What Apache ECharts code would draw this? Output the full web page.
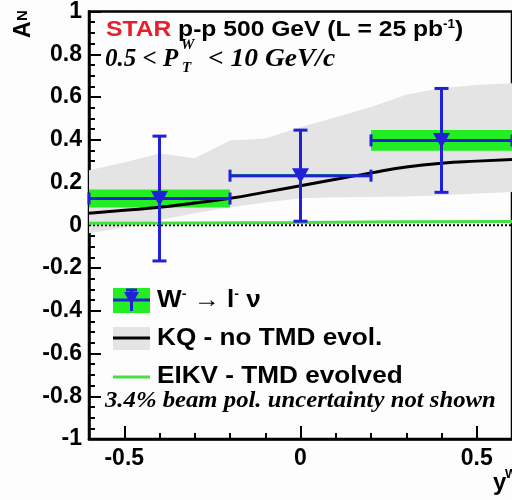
<!DOCTYPE html>
<html>
<head>
<meta charset="utf-8">
<script src="https://cdn.jsdelivr.net/npm/echarts@6/dist/echarts.min.js"></script>
<style>
  html, body { margin: 0; padding: 0; background: #fdfdfd; }
  #chart { width: 512px; height: 500px; }
</style>
</head>
<body>
<div id="chart"></div>
<script>
// STAR W- -> l- nu points (bins in y^W)
const pointX = [-0.4, 0.0, 0.4];
const pointY = [0.125, 0.232, 0.397];
const statErr = [0.292, 0.213, 0.243];
const binHalf = [0.2, 0.2, 0.2];
const sysErr = [0.042, 0.008, 0.049];

// KQ - no TMD evol. (curve + band)
const bandX = [-0.6, -0.5, -0.4, -0.3, -0.2, -0.1, 0, 0.1, 0.2, 0.3, 0.4, 0.5, 0.6];
const bandUpper = [0.257, 0.294, 0.336, 0.313, 0.397, 0.406, 0.458, 0.505, 0.553, 0.61, 0.642, 0.656, 0.664];
const bandLower = [-0.037, -0.01, 0.025, 0.056, 0.084, 0.107, 0.126, 0.131, 0.132, 0.135, 0.14, 0.148, 0.156];
const kqCurve = [0.056, 0.07, 0.084, 0.104, 0.126, 0.155, 0.185, 0.215, 0.245, 0.272, 0.29, 0.3, 0.308];

// EIKV - TMD evolved
const eikvX = [-0.6, -0.3, 0, 0.3, 0.6];
const eikvY = [0.009, 0.011, 0.013, 0.016, 0.018];

// axis ranges / ticks
const xRange = [-0.6, 0.6];
const yRange = [-1, 1];
const xMajorTicks = [-0.5, 0, 0.5];

const BLUE = '#2020d8';
const GREEN = '#22ee22';
const GREEN_LINE = '#44e044';
const GRAY = '#e4e4e4';
const SANS = '"Liberation Sans", Arial, sans-serif';
const SERIF = '"Liberation Serif", "Times New Roman", serif';

const chart = echarts.init(document.getElementById('chart'));

const option = {
  animation: false,
  backgroundColor: '#fdfdfd',
  grid: {
    left: 89,
    top: 11,
    right: -6,
    bottom: 61,
    show: true,
    borderColor: '#000',
    borderWidth: 2.5,
    backgroundColor: 'transparent'
  },
  xAxis: [
    {
      type: 'value',
      min: xRange[0],
      max: xRange[1],
      interval: 0.1,
      axisLine: { show: true, onZero: false, lineStyle: { color: '#000', width: 2.5 } },
      axisTick: { inside: true, length: 6, lineStyle: { color: '#000', width: 2 } },
      axisLabel: { show: false },
      splitLine: { show: false }
    },
    {
      type: 'value',
      position: 'bottom',
      min: xRange[0],
      max: xRange[1],
      axisLine: { show: false, onZero: false },
      axisTick: { inside: true, length: 13, customValues: xMajorTicks, lineStyle: { color: '#000', width: 2 } },
      axisLabel: {
        customValues: xMajorTicks,
        margin: 8,
        color: '#000',
        fontFamily: SANS,
        fontWeight: 'bold',
        fontSize: 23
      },
      splitLine: { show: false }
    }
  ],
  yAxis: {
    type: 'value',
    min: yRange[0],
    max: yRange[1],
    interval: 0.2,
    axisLine: { show: true, onZero: false, lineStyle: { color: '#000', width: 2.5 } },
    axisTick: { inside: true, length: 12, lineStyle: { color: '#000', width: 2 } },
    minorTick: { show: true, splitNumber: 4, length: 6, lineStyle: { color: '#000', width: 2 } },
    axisLabel: {
      margin: 7,
      color: '#000',
      fontFamily: SANS,
      fontWeight: 'bold',
      fontSize: 23
    },
    splitLine: { show: false },
    minorSplitLine: { show: false }
  },
  series: [
    {
      // KQ uncertainty band
      type: 'custom',
      z: 1,
      silent: true,
      encode: { x: 0, y: 1 },
      data: bandX.map((x, i) => [x, bandLower[i], bandUpper[i]]),
      renderItem(params, api) {
        if (params.dataIndex !== 0) return;
        const pts = [];
        for (let i = 0; i < bandX.length; i++) pts.push(api.coord([bandX[i], bandUpper[i]]));
        for (let i = bandX.length - 1; i >= 0; i--) pts.push(api.coord([bandX[i], bandLower[i]]));
        return { type: 'polygon', shape: { points: pts }, style: { fill: GRAY } };
      }
    },
    {
      // systematic boxes
      type: 'custom',
      z: 2,
      silent: true,
      encode: { x: 0, y: 1 },
      data: pointX.map((x, i) => [x, pointY[i], sysErr[i], binHalf[i]]),
      renderItem(params, api) {
        const x = api.value(0), y = api.value(1), s = api.value(2), h = api.value(3);
        const p1 = api.coord([x - h, y + s]);
        const p2 = api.coord([x + h, y - s]);
        return {
          type: 'rect',
          shape: { x: p1[0], y: p1[1], width: p2[0] - p1[0], height: p2[1] - p1[1] },
          style: { fill: GREEN }
        };
      }
    },
    {
      // dotted zero line
      type: 'line',
      z: 3,
      silent: true,
      symbol: 'none',
      data: xRange.map(x => [x, 0]),
      lineStyle: { color: '#000', width: 2, type: [2, 2] }
    },
    {
      // EIKV line
      type: 'line',
      z: 3,
      silent: true,
      symbol: 'none',
      data: eikvX.map((x, i) => [x, eikvY[i]]),
      lineStyle: { color: GREEN_LINE, width: 3 }
    },
    {
      // KQ curve
      type: 'line',
      z: 4,
      silent: true,
      symbol: 'none',
      smooth: true,
      data: bandX.map((x, i) => [x, kqCurve[i]]),
      lineStyle: { color: '#000', width: 3 }
    },
    {
      // error bars
      type: 'custom',
      z: 5,
      silent: true,
      encode: { x: 0, y: 1 },
      data: pointX.map((x, i) => [x, pointY[i], statErr[i], binHalf[i]]),
      renderItem(params, api) {
        const x = api.value(0), y = api.value(1), e = api.value(2), h = api.value(3);
        const c = api.coord([x, y]);
        const top = api.coord([x, y + e]);
        const bot = api.coord([x, y - e]);
        const l = api.coord([x - h, y]);
        const r = api.coord([x + h, y]);
        const st = { stroke: BLUE, lineWidth: 3 };
        const cw = 7, ch = 6;
        return {
          type: 'group',
          children: [
            { type: 'line', shape: { x1: c[0], y1: top[1], x2: c[0], y2: bot[1] }, style: st },
            { type: 'line', shape: { x1: c[0] - cw, y1: top[1], x2: c[0] + cw, y2: top[1] }, style: st },
            { type: 'line', shape: { x1: c[0] - cw, y1: bot[1], x2: c[0] + cw, y2: bot[1] }, style: st },
            { type: 'line', shape: { x1: l[0], y1: c[1], x2: r[0], y2: c[1] }, style: st },
            { type: 'line', shape: { x1: l[0], y1: c[1] - ch, x2: l[0], y2: c[1] + ch }, style: st },
            { type: 'line', shape: { x1: r[0], y1: c[1] - ch, x2: r[0], y2: c[1] + ch }, style: st }
          ]
        };
      }
    },
    {
      type: 'scatter',
      z: 6,
      silent: true,
      symbol: 'triangle',
      symbolRotate: 180,
      symbolSize: [17, 15],
      itemStyle: { color: BLUE, opacity: 1 },
      data: pointX.map((x, i) => [x, pointY[i]])
    }
  ],
  graphic: [
    // y axis title (rotated)
    {
      type: 'group', x: 24, y: 38, rotation: Math.PI / 2,
      children: [
        {
          type: 'text', x: 0, y: 0,
          style: { text: 'A', font: 'bold 23px ' + SANS, fill: '#000', textAlign: 'left', textVerticalAlign: 'middle' }
        },
        {
          type: 'text', x: 17, y: -1,
          style: { text: 'N', font: 'bold 15px ' + SANS, fill: '#000', textAlign: 'left', textVerticalAlign: 'middle' }
        }
      ]
    },
    // x axis title
    {
      type: 'text', x: 493, y: 483,
      style: { text: 'y', font: 'bold 24px ' + SANS, fill: '#000', textVerticalAlign: 'middle' }
    },
    {
      type: 'text', x: 505, y: 474,
      style: { text: 'W', font: 'bold 13px ' + SANS, fill: '#000', textVerticalAlign: 'middle' }
    },
    // header
    {
      type: 'text', x: 106, y: 30, scaleX: 1.12,
      style: {
        text: '{r|STAR} p-p 500 GeV (L = 25 pb{s|-1})',
        font: 'bold 22px ' + SANS, fill: '#000',
        textVerticalAlign: 'middle',
        rich: {
          r: { font: 'bold 22px ' + SANS, fill: '#e8202a' },
          s: { font: 'bold 12px ' + SANS, fill: '#000', verticalAlign: 'top' }
        }
      }
    },
    {
      type: 'text', x: 105, y: 60,
      style: { text: '0.5 < P', font: 'bold italic 25px ' + SERIF, fill: '#000', textVerticalAlign: 'middle' }
    },
    {
      type: 'text', x: 181, y: 45,
      style: { text: 'W', font: 'bold italic 15px ' + SERIF, fill: '#000', textVerticalAlign: 'middle' }
    },
    {
      type: 'text', x: 182, y: 68,
      style: { text: 'T', font: 'bold italic 15px ' + SERIF, fill: '#000', textVerticalAlign: 'middle' }
    },
    {
      type: 'text', x: 208, y: 60, scaleX: 1.1,
      style: { text: '< 10 GeV/c', font: 'bold italic 25px ' + SERIF, fill: '#000', textVerticalAlign: 'middle' }
    },
    // legend
    { type: 'rect', shape: { x: 113, y: 288, width: 37, height: 25 }, style: { fill: GREEN } },
    { type: 'line', shape: { x1: 113, y1: 300, x2: 150, y2: 300 }, style: { stroke: BLUE, lineWidth: 3 } },
    { type: 'line', shape: { x1: 131.5, y1: 290, x2: 131.5, y2: 311 }, style: { stroke: BLUE, lineWidth: 3 } },
    { type: 'line', shape: { x1: 126, y1: 290, x2: 137, y2: 290 }, style: { stroke: BLUE, lineWidth: 3 } },
    { type: 'polygon', shape: { points: [[124, 292], [139, 292], [131.5, 305]] }, style: { fill: BLUE } },
    {
      type: 'text', x: 157, y: 300, scaleX: 1.09,
      style: {
        text: 'W{s|-} \u2192 l{s|-} \u03bd',
        font: 'bold 24px ' + SANS, fill: '#000', textVerticalAlign: 'middle',
        rich: { s: { font: 'bold 13px ' + SANS, fill: '#000', verticalAlign: 'top' } }
      }
    },
    { type: 'rect', shape: { x: 113, y: 327, width: 37, height: 23 }, style: { fill: GRAY } },
    { type: 'line', shape: { x1: 113, y1: 338, x2: 150, y2: 338 }, style: { stroke: '#000', lineWidth: 3 } },
    {
      type: 'text', x: 157, y: 338, scaleX: 1.09,
      style: { text: 'KQ - no TMD evol.', font: 'bold 24px ' + SANS, fill: '#000', textVerticalAlign: 'middle' }
    },
    { type: 'line', shape: { x1: 113, y1: 377, x2: 150, y2: 377 }, style: { stroke: GREEN_LINE, lineWidth: 3 } },
    {
      type: 'text', x: 157, y: 376, scaleX: 1.09,
      style: { text: 'EIKV - TMD evolved', font: 'bold 24px ' + SANS, fill: '#000', textVerticalAlign: 'middle' }
    },
    {
      type: 'text', x: 105, y: 401, scaleX: 1.03,
      style: { text: '3.4% beam pol. uncertainty not shown', font: 'bold italic 24px ' + SERIF, fill: '#000', textVerticalAlign: 'middle' }
    }
  ]
};

chart.setOption(option);
window.addEventListener('resize', () => chart.resize());
</script>
</body>
</html>
